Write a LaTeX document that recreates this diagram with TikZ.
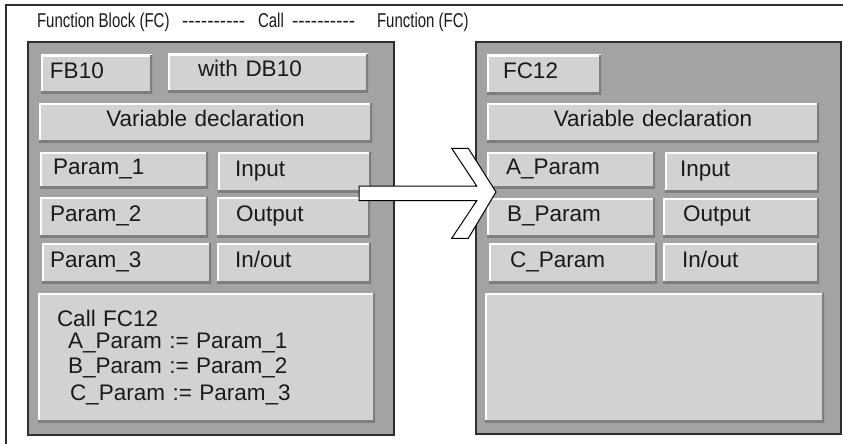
\documentclass[tikz,border=0pt]{standalone}
\usepackage{fontspec}
\usepackage{tikz}
\usetikzlibrary{positioning,calc}
\newfontfamily\guifont{Liberation Sans}
\definecolor{frameInk}{HTML}{2E2E2E}
\definecolor{panelGray}{HTML}{A3A3A3}
\definecolor{cellGray}{HTML}{D2D2D3}
\definecolor{cellShade}{HTML}{7E7E7E}
\definecolor{ink}{HTML}{1A1A1A}

\begin{document}
\begin{tikzpicture}[
  x=1pt, y=-1pt,
  every node/.style={font=\guifont\fontsize{22.5}{27}\selectfont, text=ink, outer sep=0pt},
  ttl/.style={anchor=base west, inner sep=0pt, font=\guifont\fontsize{20}{24}\selectfont},
  panel/.style={rectangle, fill=panelGray, draw=frameInk, line width=1.6pt, anchor=north west},
  raised/.style={
    rectangle, fill=cellGray, draw=none, anchor=north west,
    inner xsep=0pt, inner ysep=0pt, align=left,
    path picture={
      \draw[white, line width=4pt]
        (path picture bounding box.south west) -- (path picture bounding box.north west)
        -- (path picture bounding box.north east);
      \draw[cellShade, line width=4pt]
        (path picture bounding box.north east) -- (path picture bounding box.south east)
        -- (path picture bounding box.south west);
    },
  },
  cell/.style   ={raised, text height=14pt, text depth=6pt},
  callarrow/.style={fill=white, draw=black, line width=1pt, line join=miter},
  frame/.style  ={draw=frameInk, line width=1.8pt},
]
\useasboundingbox (0,0) rectangle (843,444);

% ── Row Y-coordinates ──
\def\yName{55}
\def\yVar{103}
\def\yRowA{152}
\def\yRowB{197}
\def\yRowC{243}
\def\yBody{293}

% ── Outer frame (cut off at right and bottom) ──
\draw[frame] (6,444) -- (6,5) -- (843,5);

% ── Title line ──
\node[ttl] (ttlfb)    at (37,28)  {\scalebox{0.75}[1]{Function Block (FC)}};
\node[ttl] (ttldasha) at (182,28) {\scalebox{0.95}[1]{-{}-{}-{}-{}-{}-{}-{}-{}-{}-}};
\node[ttl] (ttlcall)  at (258,28) {\scalebox{0.75}[1]{Call}};
\node[ttl] (ttldashb) at (292,28) {\scalebox{0.95}[1]{-{}-{}-{}-{}-{}-{}-{}-{}-{}-}};
\node[ttl] (ttlfc)    at (377,28) {\scalebox{0.75}[1]{Function (FC)}};

% ── Panels ──
\node[panel, minimum width=366pt, minimum height=393pt] (fbpanel) at (28,42)  {};
\node[panel, minimum width=365pt, minimum height=392pt] (fcpanel) at (476,42) {};

% ── Calling block: FB10 ──
\node[cell, text width=111pt, minimum height=38pt] (fbname) at (41,\yName)  {\hspace*{9pt}FB10};
\node[cell, text width=200pt, minimum height=38pt] (fbdb)   at (168,54)     {\hspace*{30pt}with DB10};
\node[cell, text width=333pt, minimum height=39pt, align=center] (fbvar) at (39,\yVar) {Variable declaration};
\node[cell, text width=168pt, minimum height=36pt] (fbp1)   at (40,\yRowA)  {\hspace*{13pt}Param\_1};
\node[cell, text width=153pt, minimum height=40pt] (fbin)   at (218,\yRowA) {\hspace*{17pt}Input};
\node[cell, text width=168pt, minimum height=40pt] (fbp2)   at (40,\yRowB)  {\hspace*{10pt}Param\_2};
\node[cell, text width=153pt, minimum height=40pt] (fbout)  at (217,\yRowB) {\hspace*{19pt}Output};
\node[cell, text width=169pt, minimum height=40pt] (fbp3)   at (42,\yRowC)  {\hspace*{8pt}Param\_3};
\node[cell, text width=154pt, minimum height=40pt] (fbio)   at (217,\yRowC) {\hspace*{18pt}In/out};
\node[raised, text width=337pt, minimum height=129pt] (fbcall) at (38,\yBody) {%
  \hspace*{19pt}Call FC12\\[-5pt]
  \hspace*{30pt}A\_Param := Param\_1\\[-1.5pt]
  \hspace*{30pt}B\_Param := Param\_2\\[0pt]
  \hspace*{32pt}C\_Param := Param\_3};

% ── Called function: FC12 ──
\node[cell, text width=114pt, minimum height=39pt] (fcname) at (487,\yName) {\hspace*{16pt}FC12};
\node[cell, text width=332pt, minimum height=39pt, align=center] (fcvar) at (487,\yVar) {Variable declaration};
\node[cell, text width=168pt, minimum height=36pt] (fca)    at (487,\yRowA) {\hspace*{19pt}A\_Param};
\node[cell, text width=154pt, minimum height=40pt] (fcin)   at (665,\yRowA) {\hspace*{15pt}Input};
\node[cell, text width=168pt, minimum height=39pt] (fcb)    at (487,198)    {\hspace*{20pt}B\_Param};
\node[cell, text width=156pt, minimum height=39pt] (fcout)  at (663,198)    {\hspace*{20pt}Output};
\node[cell, text width=168pt, minimum height=40pt] (fcc)    at (489,\yRowC) {\hspace*{21pt}C\_Param};
\node[cell, text width=156pt, minimum height=40pt] (fcio)   at (663,\yRowC) {\hspace*{19pt}In/out};
\node[raised, text width=339pt, minimum height=129pt] (fcbody) at (485,\yBody) {};

% ── Call arrow (hollow, over both panels) ──
\coordinate (calltip) at (496,192);
\draw[callarrow, shift={(calltip)}]
  (-137,-6) -- (-19.3,-6) -- (-44.3,-43.7) -- (-27.7,-43.7) -- (0,0)
  -- (-27.7,46.3) -- (-44.3,46.3) -- (-19.3,8.7) -- (-137,8.7) -- cycle;

\end{tikzpicture}
\end{document}
